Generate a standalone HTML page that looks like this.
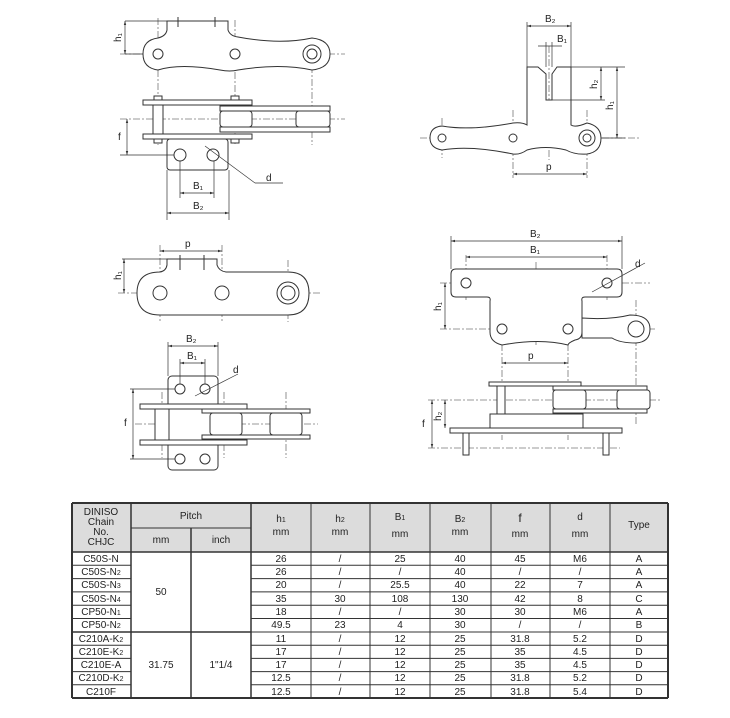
<!DOCTYPE html>
<html><head><meta charset="utf-8"><style>
html,body{margin:0;padding:0;background:#fff;}
svg{display:block;font-family:"Liberation Sans",Arial,sans-serif;}
.l{fill:none;stroke:#333;stroke-width:1;}
.p{fill:#fff;stroke:#333;stroke-width:1;}
.c{fill:none;stroke:#777;stroke-width:0.8;stroke-dasharray:7,2,2,2;}
.d{fill:none;stroke:#333;stroke-width:0.7;}
.t{font-size:10px;fill:#222;}
.tb{font-size:10px;fill:#222;text-anchor:middle;}
.g{stroke:#333;stroke-width:1;}
</style></head><body>
<svg width="730" height="718" viewBox="0 0 730 718" xmlns="http://www.w3.org/2000/svg">
<defs>
<marker id="a" viewBox="0 0 10 10" refX="10" refY="5" markerWidth="6" markerHeight="6" orient="auto-start-reverse"><path d="M0,2 L10,5 L0,8z" fill="#333"/></marker>
</defs>

<!-- ===== Drawing 1 (top-left) ===== -->
<line class="c" x1="120" y1="54" x2="345" y2="54"/>
<line class="c" x1="158" y1="18" x2="158" y2="145"/>
<line class="c" x1="235" y1="20" x2="235" y2="145"/>
<line class="c" x1="312" y1="40" x2="312" y2="145"/>
<path class="p" d="M167,21 L228,21 L228,30 Q230,36 238,37 Q280,45 312,38 Q330,40 330,54 Q330,68 312,70 Q280,63 238,70 Q230,72 220,70 Q180,63 158,70 Q143,68 143,54 Q143,40 158,38 Q166,36 167,30 Z"/>
<circle class="p" cx="158" cy="54" r="5"/><circle class="p" cx="235" cy="54" r="5"/>
<circle class="p" cx="312" cy="54" r="9"/><circle class="p" cx="312" cy="54" r="5"/>
<line class="l" x1="178" y1="17" x2="178" y2="27"/><line class="l" x1="215" y1="17" x2="215" y2="27"/>
<line class="d" x1="125" y1="21" x2="167" y2="21"/><line class="d" x1="125" y1="54" x2="143" y2="54"/>
<line class="d" x1="125" y1="21" x2="125" y2="54" marker-start="url(#a)" marker-end="url(#a)"/>
<text class="t" x="113" y="40" transform="rotate(-90 118 37)">h₁</text>
<!-- side view -->
<line class="c" x1="120" y1="119" x2="345" y2="119"/>
<rect class="p" x="167" y="139" width="61" height="31" rx="3"/>
<circle class="p" cx="180" cy="155" r="6"/><circle class="p" cx="213" cy="155" r="6"/>
<rect class="p" x="153" y="105" width="10" height="29"/>
<rect class="p" x="143" y="100" width="109" height="5"/>
<rect class="p" x="143" y="134" width="109" height="5"/>
<rect class="p" x="220" y="106" width="110" height="5"/>
<rect class="p" x="220" y="127" width="110" height="5"/>
<rect class="p" x="220" y="111" width="32" height="16" rx="3"/>
<rect class="p" x="296" y="111" width="34" height="16" rx="3"/>
<rect class="p" x="154" y="96" width="8" height="4"/><rect class="p" x="231" y="96" width="8" height="4"/>
<rect class="p" x="154" y="139" width="8" height="4"/><rect class="p" x="231" y="139" width="8" height="4"/>
<line class="d" x1="120" y1="155" x2="174" y2="155"/>
<line class="d" x1="127" y1="119" x2="127" y2="155" marker-start="url(#a)" marker-end="url(#a)"/>
<text class="t" x="118" y="140">f</text>
<line class="d" x1="180" y1="161" x2="180" y2="198"/><line class="d" x1="214" y1="161" x2="214" y2="198"/>
<line class="d" x1="180" y1="193" x2="214" y2="193" marker-start="url(#a)" marker-end="url(#a)"/>
<text class="t" x="193" y="189">B₁</text>
<line class="d" x1="167" y1="170" x2="167" y2="220"/><line class="d" x1="229" y1="170" x2="229" y2="220"/>
<line class="d" x1="167" y1="213" x2="229" y2="213" marker-start="url(#a)" marker-end="url(#a)"/>
<text class="t" x="193" y="209">B₂</text>
<line class="d" x1="205" y1="146" x2="255" y2="183"/><line class="d" x1="255" y1="183" x2="283" y2="183"/>
<text class="t" x="266" y="181">d</text>

<!-- ===== Drawing 2 (top-right) ===== -->
<line class="c" x1="420" y1="138" x2="640" y2="138"/>
<line class="c" x1="442" y1="118" x2="442" y2="158"/>
<line class="c" x1="513" y1="110" x2="513" y2="178"/>
<line class="c" x1="587" y1="110" x2="587" y2="178"/>
<line class="c" x1="549" y1="46" x2="549" y2="160"/>
<path class="p" d="M527,125 L527,67 L538,67 L546,74 L546,100 L552,100 L552,74 L557,67 L571,67 L571,125 Q575,128 587,123 Q601,126 601,138 Q601,152 587,154 Q575,155 566,150 Q545,145 527,150 Q520,155 513,154 Q470,145 442,150 Q430,148 430,138 Q430,127 442,126 Q470,131 513,123 Q522,122 527,125 Z"/>
<circle class="p" cx="442" cy="138" r="4"/><circle class="p" cx="513" cy="138" r="4"/>
<circle class="p" cx="587" cy="138" r="8"/><circle class="p" cx="587" cy="138" r="4"/>
<line class="d" x1="527" y1="22" x2="527" y2="67"/><line class="d" x1="571" y1="22" x2="571" y2="67"/>
<line class="d" x1="527" y1="26" x2="571" y2="26" marker-start="url(#a)" marker-end="url(#a)"/>
<text class="t" x="545" y="22">B₂</text>
<line class="d" x1="546" y1="42" x2="546" y2="67"/><line class="d" x1="552" y1="42" x2="552" y2="67"/>
<line class="d" x1="538" y1="46" x2="562" y2="46"/>
<text class="t" x="557" y="42">B₁</text>
<line class="d" x1="557" y1="67" x2="625" y2="67"/><line class="d" x1="552" y1="100" x2="605" y2="100"/>
<line class="d" x1="601" y1="67" x2="601" y2="100" marker-start="url(#a)" marker-end="url(#a)"/>
<text class="t" x="589" y="87" transform="rotate(-90 594 84)">h₂</text>
<line class="d" x1="601" y1="138" x2="625" y2="138"/>
<line class="d" x1="617" y1="67" x2="617" y2="138" marker-start="url(#a)" marker-end="url(#a)"/>
<text class="t" x="605" y="108" transform="rotate(-90 610 105)">h₁</text>
<line class="d" x1="513" y1="174" x2="587" y2="174" marker-start="url(#a)" marker-end="url(#a)"/>
<text class="t" x="546" y="170">p</text>

<!-- ===== Drawing 3 (mid-left) ===== -->
<line class="c" x1="118" y1="293" x2="320" y2="293"/>
<line class="c" x1="160" y1="245" x2="160" y2="322"/>
<line class="c" x1="222" y1="245" x2="222" y2="322"/>
<line class="c" x1="288" y1="260" x2="288" y2="322"/>
<path class="p" d="M167,259 L217,259 L217,265 Q219,271 226,272 L288,272 Q309,272 309,293 Q309,315 288,315 L160,315 Q137,315 137,293 Q137,272 160,272 Q166,271 167,265 Z"/>
<circle class="p" cx="160" cy="293" r="7"/><circle class="p" cx="222" cy="293" r="7"/>
<circle class="p" cx="288" cy="293" r="11"/><circle class="p" cx="288" cy="293" r="7"/>
<line class="l" x1="180" y1="255" x2="180" y2="270"/><line class="l" x1="204" y1="255" x2="204" y2="270"/>
<line class="d" x1="160" y1="251" x2="222" y2="251" marker-start="url(#a)" marker-end="url(#a)"/>
<text class="t" x="185" y="247">p</text>
<line class="d" x1="122" y1="259" x2="167" y2="259"/>
<line class="d" x1="124" y1="259" x2="124" y2="293" marker-start="url(#a)" marker-end="url(#a)"/>
<text class="t" x="113" y="278" transform="rotate(-90 118 275)">h₁</text>
<!-- side -->
<line class="c" x1="135" y1="424" x2="318" y2="424"/>
<line class="c" x1="162" y1="392" x2="162" y2="458"/>
<line class="c" x1="224" y1="392" x2="224" y2="458"/>
<line class="c" x1="286" y1="392" x2="286" y2="458"/>
<rect class="p" x="168" y="376" width="50" height="94" rx="4"/>
<rect class="p" x="155" y="408" width="14" height="33"/>
<rect class="p" x="140" y="404" width="107" height="5"/>
<rect class="p" x="140" y="440" width="107" height="5"/>
<rect class="p" x="202" y="409" width="108" height="4"/>
<rect class="p" x="202" y="435" width="108" height="4"/>
<rect class="p" x="210" y="413" width="32" height="22" rx="3"/>
<rect class="p" x="270" y="413" width="32" height="22" rx="3"/>
<circle class="p" cx="180" cy="389" r="5"/><circle class="p" cx="205" cy="389" r="5"/>
<circle class="p" cx="180" cy="459" r="5"/><circle class="p" cx="205" cy="459" r="5"/>
<line class="d" x1="168" y1="342" x2="168" y2="376"/><line class="d" x1="218" y1="342" x2="218" y2="376"/>
<line class="d" x1="168" y1="346" x2="218" y2="346" marker-start="url(#a)" marker-end="url(#a)"/>
<text class="t" x="186" y="342">B₂</text>
<line class="d" x1="180" y1="359" x2="180" y2="384"/><line class="d" x1="205" y1="359" x2="205" y2="384"/>
<line class="d" x1="180" y1="363" x2="205" y2="363" marker-start="url(#a)" marker-end="url(#a)"/>
<text class="t" x="187" y="359">B₁</text>
<line class="d" x1="195" y1="396" x2="238" y2="374"/>
<text class="t" x="233" y="373">d</text>
<line class="d" x1="130" y1="389" x2="175" y2="389"/><line class="d" x1="130" y1="459" x2="175" y2="459"/>
<line class="d" x1="133" y1="389" x2="133" y2="459" marker-start="url(#a)" marker-end="url(#a)"/>
<text class="t" x="124" y="426">f</text>

<!-- ===== Drawing 4 (mid-right) ===== -->
<line class="c" x1="440" y1="283" x2="650" y2="283"/>
<line class="c" x1="440" y1="329" x2="655" y2="329"/>
<line class="c" x1="466" y1="255" x2="466" y2="300"/>
<line class="c" x1="607" y1="255" x2="607" y2="300"/>
<line class="c" x1="536" y1="262" x2="536" y2="345"/>
<line class="c" x1="502" y1="305" x2="502" y2="440"/>
<line class="c" x1="568" y1="305" x2="568" y2="440"/>
<line class="c" x1="636" y1="300" x2="636" y2="425"/>
<path class="p" d="M582,318 Q610,320 630,315 Q650,315 650,329 Q650,342 636,343 Q620,343 612,338 L582,338 Z"/>
<circle class="p" cx="636" cy="329" r="8"/>
<path class="p" d="M456,269 L617,269 Q622,269 622,274 L622,292 Q622,297 617,297 L585,297 Q581,297 582,301 L582,332 Q582,339 575,340 Q568,343 568,345 Q540,338 502,345 Q490,342 490,332 L490,301 Q491,297 487,297 L456,297 Q451,297 451,292 L451,274 Q451,269 456,269 Z"/>
<circle class="p" cx="466" cy="283" r="5"/><circle class="p" cx="607" cy="283" r="5"/>
<circle class="p" cx="502" cy="329" r="5"/><circle class="p" cx="568" cy="329" r="5"/>
<line class="d" x1="451" y1="236" x2="451" y2="269"/><line class="d" x1="622" y1="236" x2="622" y2="269"/>
<line class="d" x1="451" y1="241" x2="622" y2="241" marker-start="url(#a)" marker-end="url(#a)"/>
<text class="t" x="530" y="237">B₂</text>
<line class="d" x1="466" y1="257" x2="607" y2="257" marker-start="url(#a)" marker-end="url(#a)"/>
<text class="t" x="530" y="253">B₁</text>
<line class="d" x1="592" y1="292" x2="645" y2="263"/>
<text class="t" x="635" y="267">d</text>
<line class="d" x1="445" y1="283" x2="445" y2="329" marker-start="url(#a)" marker-end="url(#a)"/>
<text class="t" x="433" y="309" transform="rotate(-90 438 306)">h₁</text>
<line class="d" x1="502" y1="363" x2="568" y2="363" marker-start="url(#a)" marker-end="url(#a)"/>
<text class="t" x="528" y="359">p</text>
<!-- side -->
<line class="c" x1="428" y1="400" x2="660" y2="400"/>
<line class="c" x1="428" y1="448" x2="620" y2="448"/>
<rect class="p" x="490" y="414" width="93" height="14"/>
<rect class="p" x="497" y="385" width="8" height="29"/>
<rect class="p" x="489" y="382" width="92" height="4"/>
<rect class="p" x="553" y="386" width="94" height="4"/>
<rect class="p" x="553" y="409" width="94" height="4"/>
<rect class="p" x="553" y="390" width="33" height="19" rx="3"/>
<rect class="p" x="617" y="390" width="33" height="19" rx="3"/>
<rect class="p" x="450" y="428" width="172" height="5"/>
<rect class="p" x="463" y="433" width="6" height="22"/><rect class="p" x="603" y="433" width="6" height="22"/>
<line class="d" x1="445" y1="400" x2="445" y2="428" marker-start="url(#a)" marker-end="url(#a)"/>
<text class="t" x="433" y="419" transform="rotate(-90 438 416)">h₂</text>
<line class="d" x1="432" y1="400" x2="432" y2="448" marker-start="url(#a)" marker-end="url(#a)"/>
<text class="t" x="422" y="427">f</text>

<!-- ===== Table ===== -->
<rect x="72" y="503" width="596" height="49" fill="#dcdcdc"/>
<g class="g">
<line x1="72" y1="503" x2="668" y2="503" stroke-width="2"/>
<line x1="72" y1="698" x2="668" y2="698" stroke-width="2"/>
<line x1="72" y1="552" x2="668" y2="552" stroke-width="1.5"/>
<line x1="131" y1="528" x2="251" y2="528"/>
<line x1="72" y1="503" x2="72" y2="698" stroke-width="2"/>
<line x1="668" y1="503" x2="668" y2="698" stroke-width="2"/>
<line x1="131" y1="503" x2="131" y2="698" stroke-width="1.5"/>
<line x1="191" y1="528" x2="191" y2="698" stroke-width="1.5"/>
<line x1="251" y1="503" x2="251" y2="698" stroke-width="1.5"/>
<line x1="311" y1="503" x2="311" y2="698"/>
<line x1="370" y1="503" x2="370" y2="698"/>
<line x1="430" y1="503" x2="430" y2="698"/>
<line x1="491" y1="503" x2="491" y2="698"/>
<line x1="550" y1="503" x2="550" y2="698"/>
<line x1="610" y1="503" x2="610" y2="698"/>
<line x1="72" y1="632" x2="251" y2="632" stroke-width="1.5"/>
</g>
<g class="g" stroke-width="0.8">
<line x1="72" y1="565.3" x2="131" y2="565.3"/><line x1="251" y1="565.3" x2="668" y2="565.3"/>
<line x1="72" y1="578.6" x2="131" y2="578.6"/><line x1="251" y1="578.6" x2="668" y2="578.6"/>
<line x1="72" y1="591.9" x2="131" y2="591.9"/><line x1="251" y1="591.9" x2="668" y2="591.9"/>
<line x1="72" y1="605.2" x2="131" y2="605.2"/><line x1="251" y1="605.2" x2="668" y2="605.2"/>
<line x1="72" y1="618.5" x2="131" y2="618.5"/><line x1="251" y1="618.5" x2="668" y2="618.5"/>
<line x1="251" y1="632" x2="668" y2="632"/>
<line x1="72" y1="645.2" x2="131" y2="645.2"/><line x1="251" y1="645.2" x2="668" y2="645.2"/>
<line x1="72" y1="658.4" x2="131" y2="658.4"/><line x1="251" y1="658.4" x2="668" y2="658.4"/>
<line x1="72" y1="671.6" x2="131" y2="671.6"/><line x1="251" y1="671.6" x2="668" y2="671.6"/>
<line x1="72" y1="684.8" x2="131" y2="684.8"/><line x1="251" y1="684.8" x2="668" y2="684.8"/>
</g>
<g class="tb">
<text x="101" y="515">DINISO</text><text x="101" y="525">Chain</text><text x="101" y="535">No.</text><text x="101" y="545">CHJC</text>
<text x="191" y="519">Pitch</text><text x="161" y="543">mm</text><text x="221" y="543">inch</text>
<text x="281" y="522">h<tspan font-size="7">1</tspan></text><text x="281" y="535">mm</text>
<text x="340" y="522">h<tspan font-size="7">2</tspan></text><text x="340" y="535">mm</text>
<text x="400" y="520">B<tspan font-size="7">1</tspan></text><text x="400" y="537">mm</text>
<text x="460" y="522">B<tspan font-size="7">2</tspan></text><text x="460" y="535">mm</text>
<text x="520" y="522" font-size="12">f</text><text x="520" y="537">mm</text>
<text x="580" y="520">d</text><text x="580" y="537">mm</text>
<text x="639" y="528">Type</text>
</g>
<g class="tb">
<text x="101" y="562">C50S-N</text>
<text x="101" y="575">C50S-N<tspan font-size="7">2</tspan></text>
<text x="101" y="588">C50S-N<tspan font-size="7">3</tspan></text>
<text x="101" y="602">C50S-N<tspan font-size="7">4</tspan></text>
<text x="101" y="615">CP50-N<tspan font-size="7">1</tspan></text>
<text x="101" y="628">CP50-N<tspan font-size="7">2</tspan></text>
<text x="101" y="642">C210A-K<tspan font-size="7">2</tspan></text>
<text x="101" y="655">C210E-K<tspan font-size="7">2</tspan></text>
<text x="101" y="668">C210E-A</text>
<text x="101" y="681">C210D-K<tspan font-size="7">2</tspan></text>
<text x="101" y="695">C210F</text>
<text x="161" y="595">50</text>
<text x="161" y="668">31.75</text><text x="221" y="668">1"1/4</text>
</g>
<g class="tb">
<text x="281" y="562">26</text><text x="340" y="562">/</text><text x="400" y="562">25</text><text x="460" y="562">40</text><text x="520" y="562">45</text><text x="580" y="562">M6</text><text x="639" y="562">A</text>
<text x="281" y="575">26</text><text x="340" y="575">/</text><text x="400" y="575">/</text><text x="460" y="575">40</text><text x="520" y="575">/</text><text x="580" y="575">/</text><text x="639" y="575">A</text>
<text x="281" y="588">20</text><text x="340" y="588">/</text><text x="400" y="588">25.5</text><text x="460" y="588">40</text><text x="520" y="588">22</text><text x="580" y="588">7</text><text x="639" y="588">A</text>
<text x="281" y="602">35</text><text x="340" y="602">30</text><text x="400" y="602">108</text><text x="460" y="602">130</text><text x="520" y="602">42</text><text x="580" y="602">8</text><text x="639" y="602">C</text>
<text x="281" y="615">18</text><text x="340" y="615">/</text><text x="400" y="615">/</text><text x="460" y="615">30</text><text x="520" y="615">30</text><text x="580" y="615">M6</text><text x="639" y="615">A</text>
<text x="281" y="628">49.5</text><text x="340" y="628">23</text><text x="400" y="628">4</text><text x="460" y="628">30</text><text x="520" y="628">/</text><text x="580" y="628">/</text><text x="639" y="628">B</text>
<text x="281" y="642">11</text><text x="340" y="642">/</text><text x="400" y="642">12</text><text x="460" y="642">25</text><text x="520" y="642">31.8</text><text x="580" y="642">5.2</text><text x="639" y="642">D</text>
<text x="281" y="655">17</text><text x="340" y="655">/</text><text x="400" y="655">12</text><text x="460" y="655">25</text><text x="520" y="655">35</text><text x="580" y="655">4.5</text><text x="639" y="655">D</text>
<text x="281" y="668">17</text><text x="340" y="668">/</text><text x="400" y="668">12</text><text x="460" y="668">25</text><text x="520" y="668">35</text><text x="580" y="668">4.5</text><text x="639" y="668">D</text>
<text x="281" y="681">12.5</text><text x="340" y="681">/</text><text x="400" y="681">12</text><text x="460" y="681">25</text><text x="520" y="681">31.8</text><text x="580" y="681">5.2</text><text x="639" y="681">D</text>
<text x="281" y="695">12.5</text><text x="340" y="695">/</text><text x="400" y="695">12</text><text x="460" y="695">25</text><text x="520" y="695">31.8</text><text x="580" y="695">5.4</text><text x="639" y="695">D</text>
</g>
</svg>
</body></html>
